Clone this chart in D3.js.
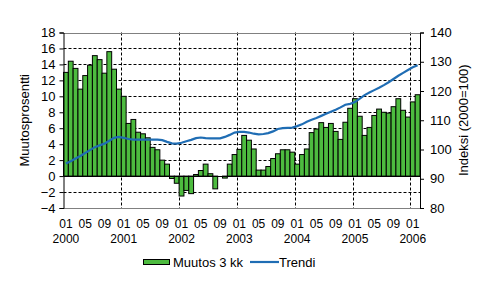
<!DOCTYPE html>
<html>
<head>
<meta charset="utf-8">
<script src="https://cdn.jsdelivr.net/npm/d3@7"></script>
<style>
  body { margin: 0; background: #fff; }
  text { font-family: "Liberation Sans", Arial, sans-serif; fill: #000; }
</style>
</head>
<body>
<div id="chart"></div>
<script>
// categories: Jan 2000 .. Feb 2006
var years = ["2000", "2001", "2002", "2003", "2004", "2005", "2006"];
var monthNames = ["01", "02", "03", "04", "05", "06", "07", "08", "09", "10", "11", "12"];
var tickMonths = ["01", "05", "09"];

// Muutos 3 kk (%)
var muutos = [
    13.0, 14.4, 13.5, 10.9, 12.6, 13.9, 15.1, 14.6, 12.9, 15.6, 13.4, 10.9,
    10.0, 6.6, 7.1, 5.5, 5.3, 4.8, 3.6, 3.3, 2.0, 1.5, -0.3, -0.9,
    -2.5, -1.8, -2.2, 0.2, 0.7, 1.5, 0.3, -1.6, 0.0, -0.25, 1.5, 2.7,
    3.35, 5.1, 4.5, 3.4, 0.75, 0.75, 1.2, 2.2, 2.8, 3.3, 3.3, 3.0,
    1.5, 2.7, 3.4, 5.45, 5.9, 6.7, 6.1, 6.6, 5.6, 4.6, 6.75, 8.5,
    9.7, 7.5, 5.1, 6.1, 7.6, 8.4, 8.0, 7.9, 8.7, 9.7, 8.25, 7.4,
    9.3, 10.2
];

// Trendi (indeksi 2000=100)
var trendi = [
    95.2, 96.0, 96.9, 97.8, 98.8, 99.8, 100.8, 101.4, 102.0, 103.0, 104.0, 104.3,
    104.0, 103.6, 103.4, 103.4, 103.4, 103.4, 103.4, 103.4, 103.2, 102.6, 102.1, 102.0,
    102.3, 102.8, 103.3, 103.9, 104.1, 103.9, 103.8, 103.8, 103.8, 104.3, 105.0, 105.8,
    106.0, 106.0, 105.8, 105.4, 105.2, 105.3, 105.6, 106.2, 107.0, 107.3, 107.4, 107.5,
    108.0, 108.6, 109.5, 110.2, 110.8, 111.5, 112.2, 112.9, 113.6, 114.4, 115.3, 115.6,
    116.2, 117.4, 118.6, 119.5, 120.3, 121.1, 122.0, 123.0, 124.1, 125.2, 126.2, 127.2,
    128.1, 128.8
];

var leftTicks = [-4, -2, 0, 2, 4, 6, 8, 10, 12, 14, 16, 18];
var rightTicks = [80, 90, 100, 110, 120, 130, 140];

function drawChart() {
    var cats = [];
    years.forEach(function (yr) {
        monthNames.forEach(function (m) {
            if (cats.length < muutos.length) cats.push(yr + "-" + m);
        });
    });

    var width = 486, height = 292;
    var pLeft = 63.5, pRight = 420, pTop = 32.5, pBottom = 208;

    var svg = d3.select("#chart").append("svg")
        .attr("width", width)
        .attr("height", height);

    var x = d3.scaleBand().domain(cats).range([pLeft, pRight]).padding(0);
    var y = d3.scaleLinear().domain([-4, 18]).range([pBottom, pTop]);
    var y2 = d3.scaleLinear().domain([80, 140]).range([pBottom, pTop]);

    // horizontal grid
    svg.append("g").selectAll("line")
        .data(leftTicks.filter(function (d) { return d !== 0 && d !== -4 && d !== 18; }))
        .enter().append("line")
        .attr("x1", pLeft).attr("x2", pRight)
        .attr("y1", function (d) { return Math.round(y(d)) + 0.5; })
        .attr("y2", function (d) { return Math.round(y(d)) + 0.5; })
        .attr("stroke", "#000").attr("stroke-dasharray", "3,2");

    // vertical grid at year boundaries
    svg.append("g").selectAll("line")
        .data(cats.filter(function (c, i) { return i > 0 && c.slice(5) === "01"; }))
        .enter().append("line")
        .attr("x1", function (d) { return Math.round(x(d)) + 0.5; })
        .attr("x2", function (d) { return Math.round(x(d)) + 0.5; })
        .attr("y1", pTop).attr("y2", pBottom)
        .attr("stroke", "#000").attr("stroke-dasharray", "3,2");

    // grey border top and bottom
    [18, -4].forEach(function (v) {
        svg.append("line")
            .attr("x1", pLeft).attr("x2", pRight)
            .attr("y1", Math.round(y(v)) + 0.5).attr("y2", Math.round(y(v)) + 0.5)
            .attr("stroke", "#808080");
    });

    // bars
    svg.append("g").selectAll("rect")
        .data(muutos)
        .enter().append("rect")
        .attr("x", function (d, i) { return x(cats[i]); })
        .attr("width", x.bandwidth())
        .attr("y", function (d) { return y(Math.max(0, d)); })
        .attr("height", function (d) { return Math.abs(y(d) - y(0)); })
        .attr("fill", "#4dbb3f")
        .attr("stroke", "#000")
        .attr("stroke-width", 1);

    // zero line
    svg.append("line")
        .attr("x1", pLeft).attr("x2", pRight)
        .attr("y1", Math.round(y(0)) + 0.5).attr("y2", Math.round(y(0)) + 0.5)
        .attr("stroke", "#000");

    // trend line
    var line = d3.line()
        .x(function (d, i) { return x(cats[i]) + x.bandwidth() / 2; })
        .y(function (d) { return y2(d); });

    svg.append("path")
        .datum(trendi)
        .attr("d", line)
        .attr("fill", "none")
        .attr("stroke", "#1f6db4")
        .attr("stroke-width", 2.2);

    // left axis
    var yAxis = d3.axisLeft(y).tickValues(leftTicks).tickSize(4).tickPadding(4);
    var gy = svg.append("g").attr("transform", "translate(" + pLeft + ",0)").call(yAxis);
    gy.select(".domain").attr("stroke", "#000");
    gy.selectAll("text").style("font-size", "13px").attr("fill", "#000").attr("font-family", null);

    // right axis
    var y2Axis = d3.axisRight(y2).tickValues(rightTicks).tickSize(4).tickPadding(6);
    var gy2 = svg.append("g").attr("transform", "translate(" + pRight + ",0)").call(y2Axis);
    gy2.select(".domain").attr("stroke", "#000");
    gy2.selectAll("text").style("font-size", "13px").attr("fill", "#000").attr("font-family", null);

    // category labels
    var labelCats = cats.filter(function (c) { return tickMonths.indexOf(c.slice(5)) >= 0; });
    svg.append("g").selectAll("text")
        .data(labelCats)
        .enter().append("text")
        .attr("x", function (d) { return x(d) + x.bandwidth() / 2; })
        .attr("y", 228)
        .attr("text-anchor", "middle")
        .style("font-size", "12px")
        .text(function (d) { return d.slice(5); });

    svg.append("g").selectAll("text")
        .data(cats.filter(function (c) { return c.slice(5) === "01"; }))
        .enter().append("text")
        .attr("x", function (d) { return x(d) + x.bandwidth() / 2; })
        .attr("y", 243)
        .attr("text-anchor", "middle")
        .style("font-size", "12px")
        .text(function (d) { return d.slice(0, 4); });

    // axis titles
    svg.append("text")
        .attr("transform", "translate(29," + (pTop + pBottom) / 2 + ") rotate(-90)")
        .attr("text-anchor", "middle")
        .style("font-size", "13px")
        .text("Muutosprosentti");

    svg.append("text")
        .attr("transform", "translate(468," + (pTop + pBottom) / 2 + ") rotate(-90)")
        .attr("text-anchor", "middle")
        .style("font-size", "13px")
        .text("Indeksi (2000=100)");

    // legend
    var lg = svg.append("g");
    lg.append("rect")
        .attr("x", 143.5).attr("y", 259.5)
        .attr("width", 26).attr("height", 5)
        .attr("fill", "#4dbb3f").attr("stroke", "#000");
    lg.append("text")
        .attr("x", 173).attr("y", 266.5)
        .style("font-size", "13px")
        .text("Muutos 3 kk");
    lg.append("line")
        .attr("x1", 250).attr("x2", 279)
        .attr("y1", 262).attr("y2", 262)
        .attr("stroke", "#1f6db4").attr("stroke-width", 2.2);
    lg.append("text")
        .attr("x", 279).attr("y", 266.5)
        .style("font-size", "13px")
        .text("Trendi");
}

drawChart();
</script>
</body>
</html>
